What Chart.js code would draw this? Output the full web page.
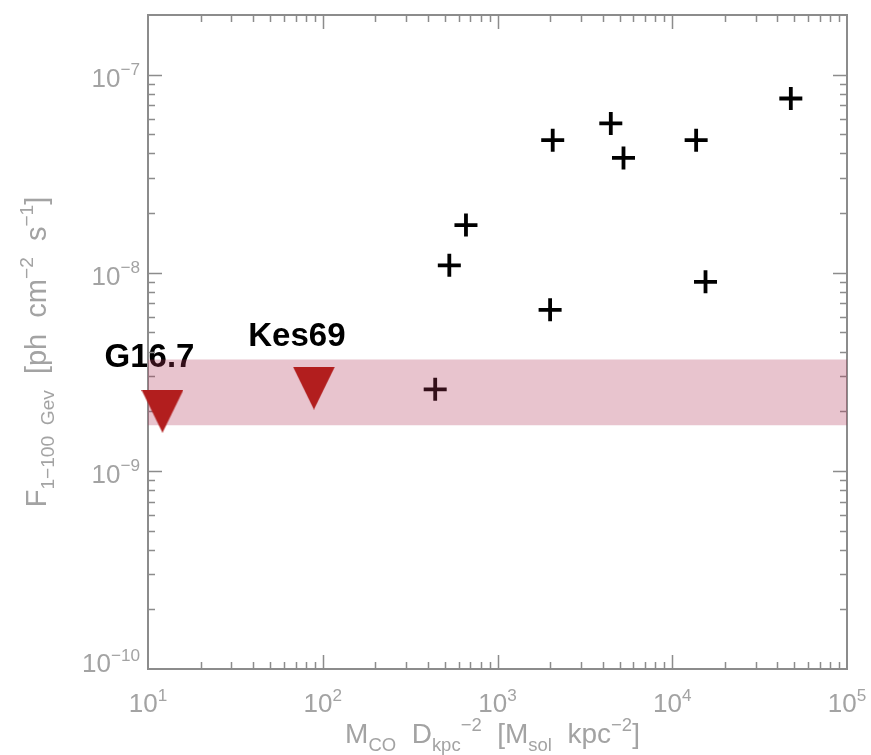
<!DOCTYPE html>
<html>
<head>
<meta charset="utf-8">
<script src="https://cdn.jsdelivr.net/npm/chart.js@4/dist/chart.umd.min.js"></script>
<style>
  html, body { margin: 0; padding: 0; background: #ffffff; }
  #wrap { width: 871px; height: 755px; }
</style>
</head>
<body>
<div id="wrap"><canvas id="c" width="871" height="755"></canvas></div>
<script>
// Axis ranges
const xRange = [10, 1e5];
const yRange = [1e-10, 2e-7];

// Detected remnants: M_CO D^-2 versus 1-100 GeV flux
const detX = [440, 530, 660, 2000, 2070, 4450, 5260, 13700, 15500, 47700];
const detY = [2.58e-9, 1.09e-8, 1.74e-8, 6.5e-9, 4.67e-8, 5.67e-8, 3.8e-8, 4.67e-8, 9.0e-9, 7.58e-8];

// Flux upper limits
const limNames = ['G16.7', 'Kes69'];
const limX = [12.1, 89];
const limY = [2.0e-9, 2.62e-9];

// Shaded flux band [low, high]
const bandRange = [1.7e-9, 3.65e-9];

// Decade exponents used for tick labels
const xExponents = [1, 2, 3, 4, 5];
const yExponents = [-10, -9, -8, -7];

// ---- styling ----
const FONT = '"Liberation Sans", Arial, Helvetica, sans-serif';
const AXIS_COLOR = '#8c8c8c';
const TEXT_COLOR = '#a3a3a3';
const LABEL_OFFSETS = [[-13, -44], [-17, -42]];

// Downward triangle used for the upper limits
function makeTriangle(w, h, color) {
  const c = document.createElement('canvas');
  c.width = w; c.height = h;
  const g = c.getContext('2d');
  g.fillStyle = color;
  g.beginPath();
  g.moveTo(0, 0);
  g.lineTo(w, 0);
  g.lineTo(w / 2, h);
  g.closePath();
  g.fill();
  return c;
}
const triangle = makeTriangle(42, 43, '#b21e1e');

// Draw text with subscript / superscript runs
function richWidth(ctx, parts, size) {
  let w = 0;
  for (const [t, k] of parts) {
    const s = k === 'n' ? size : size * 0.66;
    ctx.font = s + 'px ' + FONT;
    w += ctx.measureText(t).width;
  }
  return w;
}
function drawRich(ctx, parts, x, y, size) {
  let cx = x;
  for (const [t, k] of parts) {
    const s = k === 'n' ? size : size * 0.66;
    const dy = k === 'b' ? size * 0.28 : (k === 'p' ? -size * 0.44 : 0);
    ctx.font = s + 'px ' + FONT;
    ctx.fillText(t, cx, y + dy);
    cx += ctx.measureText(t).width;
  }
}

const xTitle = [['M', 'n'], ['CO', 'b'], ['  D', 'n'], ['kpc', 'b'], ['\u22122', 'p'], ['  [M', 'n'], ['sol', 'b'], ['  kpc', 'n'], ['\u22122', 'p'], [']', 'n']];
const yTitle = [['F', 'n'], ['1\u2212100  Gev', 'b'], ['  [ph  cm', 'n'], ['\u22122', 'p'], ['  s', 'n'], ['\u22121', 'p'], [']', 'n']];

const framePlugin = {
  id: 'idlFrame',
  beforeDatasetsDraw(chart) {
    const { ctx, chartArea: a, scales: { x, y } } = chart;
    ctx.save();
    ctx.textBaseline = 'alphabetic';

    // Source names above the upper-limit markers
    ctx.fillStyle = '#000000';
    ctx.textAlign = 'center';
    ctx.font = 'bold 33px ' + FONT;
    limNames.forEach((n, i) => {
      const px = x.getPixelForValue(limX[i]);
      const py = y.getPixelForValue(limY[i]);
      ctx.fillText(n, px + LABEL_OFFSETS[i][0], py + LABEL_OFFSETS[i][1]);
    });

    // Box
    ctx.strokeStyle = AXIS_COLOR;
    ctx.lineWidth = 2;
    ctx.strokeRect(a.left, a.top, a.right - a.left, a.bottom - a.top);

    // Inward ticks on all four sides
    ctx.lineWidth = 1.5;
    ctx.beginPath();
    for (let e = 1; e < 5; e++) {
      for (let m = 1; m < 10; m++) {
        const v = m * Math.pow(10, e);
        if (v <= xRange[0] || v >= xRange[1]) continue;
        const px = Math.round(x.getPixelForValue(v)) + 0.5;
        const len = m === 1 ? 14 : 7;
        ctx.moveTo(px, a.bottom); ctx.lineTo(px, a.bottom - len);
        ctx.moveTo(px, a.top); ctx.lineTo(px, a.top + len);
      }
    }
    for (let e = -10; e < -6; e++) {
      for (let m = 1; m < 10; m++) {
        const v = m * Math.pow(10, e);
        if (v <= yRange[0] * 1.0001 || v >= yRange[1] * 0.9999) continue;
        const py = Math.round(y.getPixelForValue(v)) + 0.5;
        const len = m === 1 ? 14 : 7;
        ctx.moveTo(a.left, py); ctx.lineTo(a.left + len, py);
        ctx.moveTo(a.right, py); ctx.lineTo(a.right - len, py);
      }
    }
    ctx.stroke();

    // Tick labels
    ctx.fillStyle = TEXT_COLOR;
    ctx.textAlign = 'left';
    const TS = 26;
    xExponents.forEach(e => {
      const parts = [['10', 'n'], [String(e), 'p']];
      const w = richWidth(ctx, parts, TS);
      const px = x.getPixelForValue(Math.pow(10, e));
      drawRich(ctx, parts, px - w / 2, a.bottom + 43, TS);
    });
    yExponents.forEach(e => {
      const parts = [['10', 'n'], ['\u2212' + String(-e), 'p']];
      const w = richWidth(ctx, parts, TS);
      const py = y.getPixelForValue(Math.pow(10, e));
      drawRich(ctx, parts, 140 - w, Math.min(py + 12, a.bottom + 3), TS);
    });

    // Axis titles
    const TT = 28;
    const wx = richWidth(ctx, xTitle, TT);
    drawRich(ctx, xTitle, (a.left + a.right) / 2 - 5 - wx / 2, a.bottom + 74, TT);

    const TY = 29;
    const wy = richWidth(ctx, yTitle, TY);
    ctx.save();
    ctx.translate(46, 352);
    ctx.rotate(-Math.PI / 2);
    drawRich(ctx, yTitle, -wy / 2, 0, TY);
    ctx.restore();

    ctx.restore();
  }
};

const pts = (xs, ys) => xs.map((v, i) => ({ x: v, y: ys[i] }));

new Chart(document.getElementById('c'), {
  type: 'scatter',
  data: {
    datasets: [
      {
        label: 'upper limits',
        data: pts(limX, limY),
        pointStyle: triangle,
        pointRadius: 21,
        showLine: false,
        clip: false,
        order: 0
      },
      {
        label: 'band high',
        type: 'line',
        data: [{ x: xRange[0], y: bandRange[1] }, { x: xRange[1], y: bandRange[1] }],
        borderWidth: 0,
        pointRadius: 0,
        fill: '+1',
        backgroundColor: 'rgba(175, 50, 85, 0.29)',
        order: 1
      },
      {
        label: 'band low',
        type: 'line',
        data: [{ x: xRange[0], y: bandRange[0] }, { x: xRange[1], y: bandRange[0] }],
        borderWidth: 0,
        pointRadius: 0,
        fill: false,
        order: 1
      },
      {
        label: 'detections',
        data: pts(detX, detY),
        pointStyle: 'cross',
        pointRadius: 11.5,
        borderWidth: 3.8,
        borderColor: '#000000',
        backgroundColor: '#000000',
        showLine: false,
        order: 2
      }
    ]
  },
  options: {
    responsive: false,
    animation: false,
    layout: { autoPadding: false, padding: { left: 148, right: 24, top: 15, bottom: 86 } },
    plugins: { legend: { display: false }, tooltip: { enabled: false } },
    scales: {
      x: { type: 'logarithmic', min: xRange[0], max: xRange[1], display: false },
      y: { type: 'logarithmic', min: yRange[0], max: yRange[1], display: false }
    }
  },
  plugins: [framePlugin]
});
</script>
</body>
</html>
